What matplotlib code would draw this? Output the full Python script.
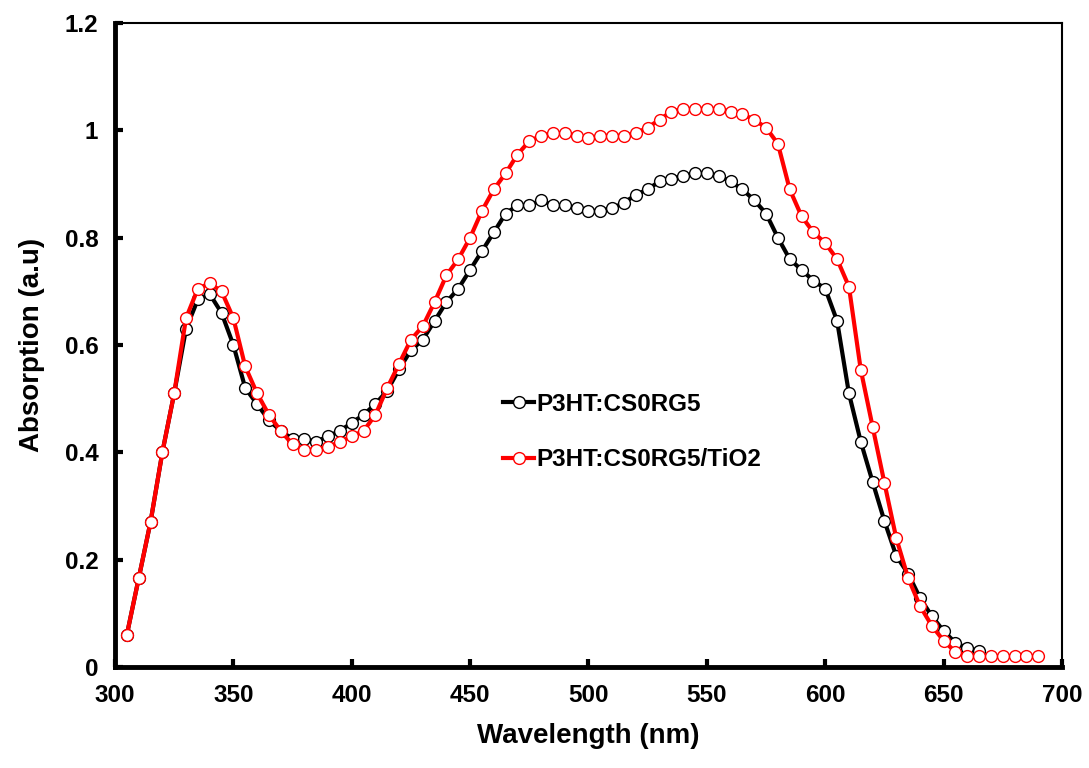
import matplotlib
matplotlib.use("Agg")
import matplotlib.pyplot as plt

plt.rcParams['font.family'] = ['Liberation Sans', 'DejaVu Sans']
plt.rcParams['font.weight'] = 'bold'

wl_black = list(range(305, 670, 5))
abs_black = [0.06, 0.165, 0.27, 0.40, 0.51, 0.63, 0.685, 0.695, 0.66, 0.60,
             0.52, 0.49, 0.46, 0.44, 0.425, 0.425, 0.42, 0.43, 0.44, 0.455,
             0.47, 0.49, 0.515, 0.555, 0.59, 0.61, 0.645, 0.68, 0.705, 0.74,
             0.775, 0.81, 0.845, 0.86, 0.86, 0.87, 0.86, 0.86, 0.855, 0.85,
             0.85, 0.855, 0.865, 0.88, 0.89, 0.905, 0.91, 0.915, 0.92, 0.92,
             0.915, 0.905, 0.89, 0.87, 0.845, 0.80, 0.76, 0.74, 0.72, 0.705,
             0.645, 0.51, 0.42, 0.345, 0.272, 0.207, 0.174, 0.129, 0.095, 0.067,
             0.045, 0.035, 0.03]

wl_red = list(range(305, 695, 5))
abs_red = [0.06, 0.165, 0.27, 0.40, 0.51, 0.65, 0.705, 0.715, 0.70, 0.65,
           0.56, 0.51, 0.47, 0.44, 0.415, 0.405, 0.405, 0.41, 0.42, 0.43,
           0.44, 0.47, 0.52, 0.565, 0.61, 0.635, 0.68, 0.73, 0.76, 0.80,
           0.85, 0.89, 0.92, 0.955, 0.98, 0.99, 0.995, 0.995, 0.99, 0.985,
           0.99, 0.99, 0.99, 0.995, 1.005, 1.02, 1.035, 1.04, 1.04, 1.04,
           1.04, 1.035, 1.03, 1.02, 1.005, 0.975, 0.89, 0.84, 0.81, 0.79,
           0.76, 0.709, 0.554, 0.448, 0.343, 0.24, 0.166, 0.114, 0.077, 0.049,
           0.028, 0.02, 0.02, 0.02, 0.02, 0.02, 0.02, 0.02]

labels = ['P3HT:CS0RG5', 'P3HT:CS0RG5/TiO2']
x_ticks = list(range(300, 701, 50))
y_ticks = [0, 0.2, 0.4, 0.6, 0.8, 1.0, 1.2]
y_tick_labels = ['0', '0.2', '0.4', '0.6', '0.8', '1', '1.2']

fig = plt.figure(figsize=(10.89, 7.68), dpi=100)
ax = fig.add_axes([0.1056, 0.1315, 0.8696, 0.8385])

ax.plot(wl_black, abs_black, color='black', lw=3, marker='o', ms=8.5,
        mfc='white', mec='black', mew=1.0, label=labels[0])
ax.plot(wl_red, abs_red, color='#ff0000', lw=3, marker='o', ms=8.5,
        mfc='white', mec='#ff0000', mew=1.0, label=labels[1])

ax.set_xlim(300, 700)
ax.set_ylim(0, 1.2)
ax.set_xticks(x_ticks)
ax.set_yticks(y_ticks)
ax.set_yticklabels(y_tick_labels)
ax.tick_params(direction='in', length=6, width=3, labelsize=17.5, pad=12)
for lab in ax.get_xticklabels() + ax.get_yticklabels():
    lab.set_fontweight('bold')

ax.spines['left'].set_linewidth(3.5)
ax.spines['bottom'].set_linewidth(3.5)
ax.spines['top'].set_linewidth(1.5)
ax.spines['right'].set_linewidth(1.5)

ax.set_xlabel('Wavelength (nm)', fontsize=20, fontweight='bold', labelpad=12)
ax.set_ylabel('Absorption (a.u)', fontsize=20, fontweight='bold', labelpad=14)

leg = ax.legend(loc='center left', bbox_to_anchor=(0.387, 0.365), frameon=False,
                handlelength=1.25, handletextpad=0.1,
                labelspacing=1.35, prop={'weight': 'bold', 'size': 17.5})

fig.savefig('out.png', dpi=100)
